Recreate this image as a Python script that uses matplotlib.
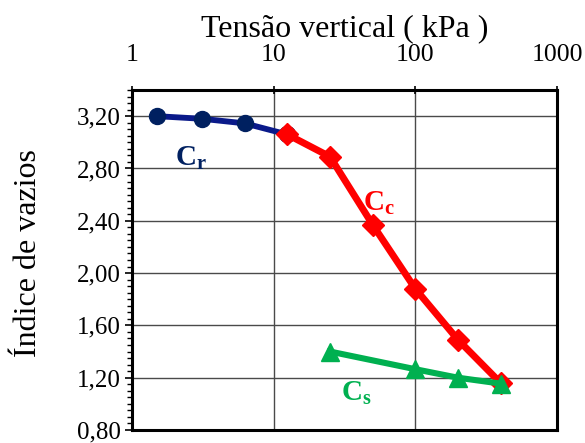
import numpy as np
import matplotlib.pyplot as plt
from matplotlib.ticker import FixedLocator, MultipleLocator, FuncFormatter

plt.rcParams['font.family'] = ['Liberation Serif', 'DejaVu Serif']
plt.rcParams['mathtext.fontset'] = 'custom'
plt.rcParams['mathtext.rm'] = 'Liberation Serif'
plt.rcParams['mathtext.bf'] = 'Liberation Serif:bold'

# recompressao (Cr)
p_r = [1.5, 3.125, 6.25, 12.5]
e_r = [3.20, 3.18, 3.145, 3.06]

# compressao virgem (Cc)
p_c = [12.5, 25, 50, 100, 200, 400]
e_c = [3.06, 2.89, 2.37, 1.88, 1.49, 1.16]

# descarregamento (Cs)
p_s = [25, 100, 200, 400]
e_s = [1.40, 1.265, 1.20, 1.155]

fig = plt.figure(figsize=(5.85, 4.43), dpi=100)
ax = fig.add_axes([0.2256, 0.0293, 0.7265, 0.7675])

ax.plot(p_r, e_r, color='#0a1a8a', lw=4.2, marker='o', ms=11.5,
        mfc='#002060', mec='#002060', zorder=3)
ax.plot(p_c, e_c, color='#ff0000', lw=5, marker='D', ms=11,
        mfc='#ff0000', mec='#ff0000', zorder=4)
ax.plot(p_s, e_s, color='#00b050', lw=4.4, marker='^', ms=13.5,
        mfc='#00b050', mec='#00b050', zorder=5)

ax.set_xscale('log')
ax.set_xlim(1, 1000)
ax.set_ylim(0.80, 3.40)

ax.xaxis.set_major_locator(FixedLocator([1, 10, 100, 1000]))
ax.xaxis.set_minor_locator(FixedLocator([]))
ax.xaxis.set_major_formatter(FuncFormatter(lambda v, _: f'{v:g}'))
ax.xaxis.tick_top()
ax.xaxis.set_label_position('top')

ax.yaxis.set_major_locator(FixedLocator(np.arange(0.8, 3.21, 0.4)))
ax.yaxis.set_minor_locator(MultipleLocator(0.05))
ax.yaxis.set_major_formatter(FuncFormatter(lambda v, _: f'{v:.2f}'.replace('.', ',')))

ax.tick_params(axis='x', which='major', direction='inout', length=6, width=1.2,
               labelsize=18.5, pad=14)
ax.tick_params(axis='y', which='major', direction='out', length=5, width=1.2,
               labelsize=18, pad=3)
ax.tick_params(axis='y', which='minor', direction='out', length=3.5, width=1.0)

ax.grid(True, which='major', color='#4a4a4a', lw=1.0)
for s in ax.spines.values():
    s.set_linewidth(2.2)

ax.set_xlabel('Tensão vertical ( kPa )', fontsize=23, labelpad=6)
ax.set_ylabel('Índice de vazios', fontsize=23)
ax.yaxis.set_label_coords(-0.21, 0.52)

ax.text(2.0, 2.88, r'$\mathbf{C_r}$', color='#002060', fontsize=21,
        ha='left', va='center')
ax.text(43, 2.53, r'$\mathbf{C_c}$', color='#ff0000', fontsize=21,
        ha='left', va='center')
ax.text(30, 1.08, r'$\mathbf{C_s}$', color='#00b050', fontsize=21,
        ha='left', va='center')

fig.savefig('out.png', dpi=100)
